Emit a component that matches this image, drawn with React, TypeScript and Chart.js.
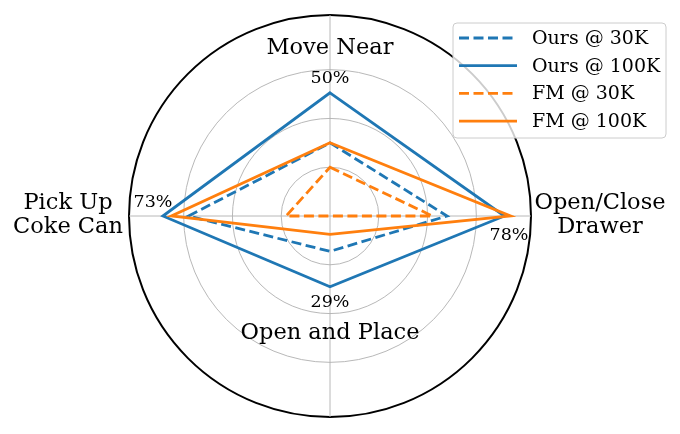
import React, { useEffect, useRef } from 'react';
import { Chart, registerables } from 'chart.js';

Chart.register(...registerables);

// categories, clockwise from the top
const tasks = ['Move Near', 'Open/Close Drawer', 'Open and Place', 'Pick Up Coke Can'];
const taskLabelLines = [['Move Near'], ['Open/Close', 'Drawer'], ['Open and Place'], ['Pick Up', 'Coke Can']];
const bestLabels = ['50%', '78%', '29%', '73%'];

// radial values (0.2 per grid ring)
const ours30k = [0.3, 0.48, 0.145, 0.58];
const ours100k = [0.505, 0.715, 0.29, 0.685];
const fm30k = [0.2, 0.42, 0, 0.18];
const fm100k = [0.3, 0.74, 0.075, 0.65];

const RMAX = 0.824;
const BLUE = '#1f77b4';
const ORANGE = '#ff7f0e';
const SERIF = '"DejaVu Serif", serif';

const labelsPlugin = {
  id: 'radarText',
  afterDraw(chart: any) {
    const { ctx } = chart;
    const r = chart.scales.r;
    const cx = r.xCenter;
    const cy = r.yCenter;
    ctx.save();
    ctx.fillStyle = '#000';
    ctx.textAlign = 'center';
    ctx.textBaseline = 'middle';

    // task names
    ctx.font = `22.5px ${SERIF}`;
    const namePos = [
      [0, -167.5],
      [270, -12.5],
      [0, 117.5],
      [-262, -12.5],
    ];
    taskLabelLines.forEach((lines, i) => {
      lines.forEach((line, j) => {
        ctx.fillText(line, cx + namePos[i][0], cy + namePos[i][1] + j * 23.5);
      });
    });

    // best scores
    ctx.font = `17.5px ${SERIF}`;
    const bestPos = [
      [0, -137.5],
      [179, 19.5],
      [0, 86],
      [-177, -13.5],
    ];
    bestLabels.forEach((t, i) => {
      ctx.fillText(t, cx + bestPos[i][0], cy + bestPos[i][1]);
    });

    // legend
    const bx = 453, by = 23, bw = 213, bh = 115;
    ctx.beginPath();
    ctx.roundRect(bx, by, bw, bh, 4);
    ctx.fillStyle = 'rgba(255,255,255,0.8)';
    ctx.fill();
    ctx.strokeStyle = '#cccccc';
    ctx.lineWidth = 1;
    ctx.stroke();

    ctx.font = `19px ${SERIF}`;
    ctx.textAlign = 'left';
    chart.data.datasets.forEach((ds: any, i: number) => {
      const y = 38 + i * 27.7;
      ctx.beginPath();
      ctx.setLineDash(ds.borderDash || []);
      ctx.strokeStyle = ds.borderColor;
      ctx.lineWidth = 2.8;
      ctx.moveTo(459, y);
      ctx.lineTo(517, y);
      ctx.stroke();
      ctx.setLineDash([]);
      ctx.fillStyle = '#000';
      ctx.fillText(ds.label, 532, y + 1);
    });
    ctx.restore();
  },
};

const App: React.FC = () => {
  const canvasRef = useRef<HTMLCanvasElement | null>(null);

  useEffect(() => {
    document.body.style.margin = '0';
    const ctx = canvasRef.current?.getContext('2d');
    if (!ctx) return;

    const line = (label: string, data: number[], color: string, dashed: boolean, order: number) => ({
      label,
      data,
      borderColor: color,
      backgroundColor: color,
      borderWidth: 2.8,
      borderDash: dashed ? [10, 4.5] : [],
      borderJoinStyle: 'miter' as const,
      fill: false,
      pointRadius: 0,
      order,
    });

    const chart = new Chart(ctx, {
      type: 'radar',
      data: {
        labels: tasks,
        datasets: [
          line('Ours @ 30K', ours30k, BLUE, true, 4),
          line('Ours @ 100K', ours100k, BLUE, false, 3),
          line('FM @ 30K', fm30k, ORANGE, true, 2),
          line('FM @ 100K', fm100k, ORANGE, false, 1),
        ],
      },
      options: {
        responsive: false,
        animation: false,
        layout: { padding: { left: 129, right: 149, top: 15, bottom: 17 } },
        plugins: { legend: { display: false }, tooltip: { enabled: false } },
        scales: {
          r: {
            min: 0,
            max: RMAX,
            ticks: { display: false, stepSize: 0.2 },
            pointLabels: { display: false },
            grid: {
              circular: true,
              color: (c: any) => (c.tick && c.tick.value >= RMAX - 1e-6 ? '#000000' : '#b0b0b0'),
              lineWidth: (c: any) => (c.tick && c.tick.value >= RMAX - 1e-6 ? 2 : 0.9),
            },
            angleLines: { color: '#b0b0b0', lineWidth: 0.9 },
          },
        },
      },
      plugins: [labelsPlugin],
    });

    return () => chart.destroy();
  }, []);

  return (
    <div style={{ width: 680, height: 434, background: '#fff' }}>
      <canvas ref={canvasRef} width={680} height={434} />
    </div>
  );
};

export default App;
